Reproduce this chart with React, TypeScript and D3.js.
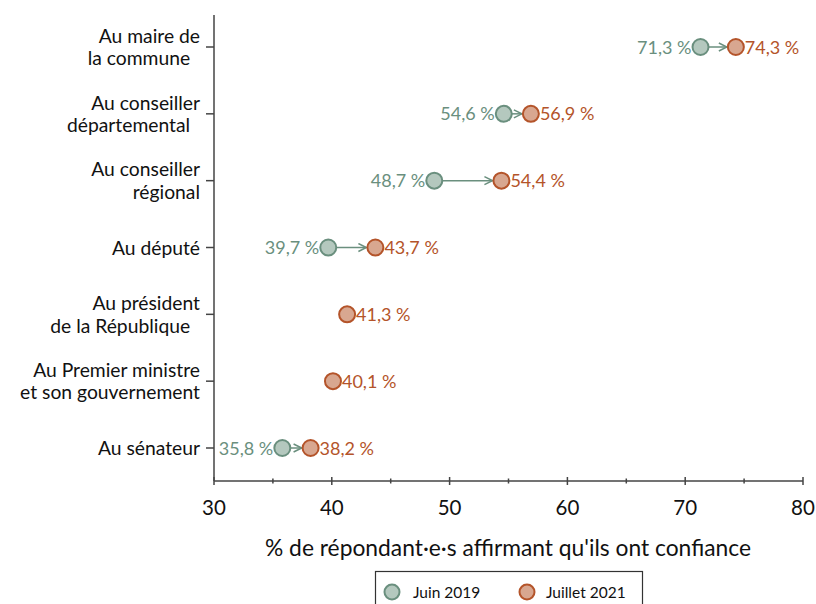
import React from "react";
import * as d3 from "d3";

const categories: string[][] = [
  ["Au maire de", "la commune\u00a0\u00a0"],
  ["Au conseiller", "départemental\u00a0\u00a0"],
  ["Au conseiller", "régional"],
  ["Au député"],
  ["Au président", "de la République\u00a0\u00a0"],
  ["Au Premier ministre", "et son gouvernement"],
  ["Au sénateur"],
];
const juin2019: (number | null)[] = [71.3, 54.6, 48.7, 39.7, null, null, 35.8];
const juillet2021: number[] = [74.3, 56.9, 54.4, 43.7, 41.3, 40.1, 38.2];
const xTicks = [30, 40, 50, 60, 70, 80];
const xMinorTicks = [35, 45, 55, 65, 75];
const seriesNames = ["Juin 2019", "Juillet 2021"];

const GREEN_FILL = "#b4c8be";
const GREEN = "#6a8f7e";
const ORANGE_FILL = "#d8a790";
const ORANGE = "#b4542a";
const AXIS = "#444";
const FONT = "Lato, 'Open Sans', sans-serif";

const fmt = (v: number) => v.toFixed(1).replace(".", ",") + "\u00a0%";

export default function App() {
  const W = 816, H = 604;
  const x = d3.scaleLinear().domain([30, 80]).range([214, 803]);
  const y = d3
    .scalePoint<number>()
    .domain(categories.map((_, i) => i))
    .range([47, 448]);
  const axisY = 481;
  const r = 8;

  return (
    <svg
      width={W}
      height={H}
      style={{ position: "absolute", left: 0, top: 0, background: "#fff" }}
      fontFamily={FONT}
    >
      <defs>
        <marker
          id="arr"
          viewBox="0 0 10 10"
          refX="9"
          refY="5"
          markerWidth="10"
          markerHeight="10"
          markerUnits="userSpaceOnUse"
          orient="auto"
        >
          <path d="M1,1 L9,5 L1,9" fill="none" stroke={GREEN} strokeWidth={1.5} />
        </marker>
      </defs>
      {/* Y axis */}
      <line x1={214} x2={214} y1={15} y2={axisY} stroke={AXIS} strokeWidth={1.5} />
      {categories.map((lines, i) => {
        const cy = y(i)!;
        const lh = 22.5;
        const y0 = cy - ((lines.length - 1) * lh) / 2 + 7;
        return (
          <g key={i}>
            <line x1={206} x2={214} y1={cy} y2={cy} stroke={AXIS} strokeWidth={1.5} />
            <text textAnchor="end" fontSize={19.3} fill="#111" x={200}>
              {lines.map((l, j) => (
                <tspan key={j} x={200} y={y0 + j * lh}>
                  {l}
                </tspan>
              ))}
            </text>
          </g>
        );
      })}
      {/* X axis */}
      <line x1={214} x2={803} y1={axisY} y2={axisY} stroke={AXIS} strokeWidth={1.5} />
      {xTicks.map((t) => (
        <g key={t}>
          <line x1={x(t)} x2={x(t)} y1={axisY - 4} y2={axisY + 4} stroke={AXIS} strokeWidth={1.5} />
          <text x={x(t)} y={515} textAnchor="middle" fontSize={20.5} fill="#111">
            {t}
          </text>
        </g>
      ))}
      {xMinorTicks.map((t) => (
        <line key={t} x1={x(t)} x2={x(t)} y1={axisY - 2.5} y2={axisY + 2.5} stroke={AXIS} strokeWidth={1.5} />
      ))}
      <text x={508} y={556} textAnchor="middle" fontSize={22.8} fill="#111">
        % de répondant·e·s affirmant qu'ils ont confiance
      </text>
      {/* Marks */}
      {categories.map((_, i) => {
        const cy = y(i)!;
        const a = juin2019[i];
        const b = juillet2021[i];
        return (
          <g key={i}>
            {a != null && (
              <line
                x1={x(a) + r}
                x2={x(b) - r - 1}
                y1={cy}
                y2={cy}
                stroke={GREEN}
                strokeWidth={1.5}
                markerEnd="url(#arr)"
              />
            )}
            {a != null && (
              <>
                <circle cx={x(a)} cy={cy} r={r} fill={GREEN_FILL} stroke={GREEN} strokeWidth={2} />
                <text x={x(a) - r - 1} y={cy + 6.5} textAnchor="end" fontSize={18} fill={GREEN}>
                  {fmt(a)}
                </text>
              </>
            )}
            <circle cx={x(b)} cy={cy} r={r} fill={ORANGE_FILL} stroke={ORANGE} strokeWidth={2} />
            <text x={x(b) + r + 1} y={cy + 6.5} textAnchor="start" fontSize={18} fill={ORANGE}>
              {fmt(b)}
            </text>
          </g>
        );
      })}
      {/* Legend */}
      <rect x={375.5} y={571.5} width={267} height={40} fill="#fff" stroke="#333" strokeWidth={1.2} />
      <circle cx={392} cy={592} r={7.5} fill={GREEN_FILL} stroke={GREEN} strokeWidth={2} />
      <text x={413} y={598} fontSize={15.5} fill="#111">
        {seriesNames[0]}
      </text>
      <circle cx={527} cy={592} r={7.5} fill={ORANGE_FILL} stroke={ORANGE} strokeWidth={2} />
      <text x={546} y={598} fontSize={15.5} fill="#111">
        {seriesNames[1]}
      </text>
    </svg>
  );
}
